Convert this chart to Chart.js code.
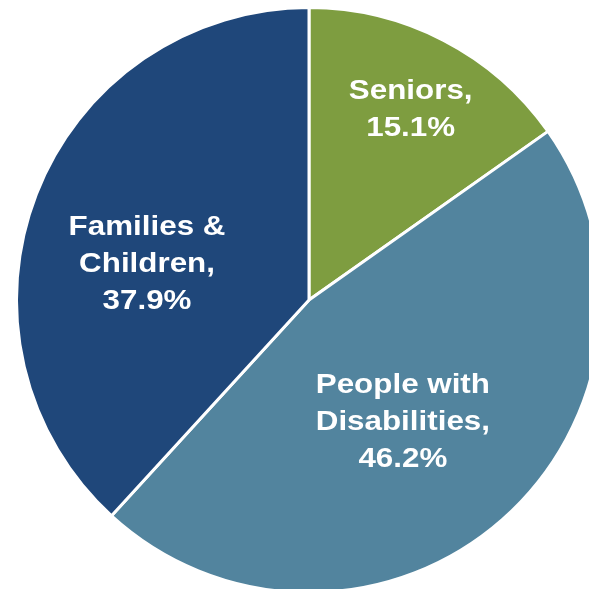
<!DOCTYPE html>
<html>
<head>
<meta charset="utf-8">
<script src="https://cdn.jsdelivr.net/npm/chart.js@4.4.0/dist/chart.umd.min.js"></script>
<style>
html,body{margin:0;padding:0;width:589px;height:589px;overflow:hidden;background:#ffffff;}
#wrap{position:absolute;left:9px;top:0px;width:600px;height:600px;}
</style>
</head>
<body>
<div id="wrap"><canvas id="c" width="600" height="600"></canvas></div>
<script>
const categories = ["Seniors", "People with Disabilities", "Families & Children"];
const labelLines = [["Seniors,", "15.1%"], ["People with", "Disabilities,", "46.2%"], ["Families &", "Children,", "37.9%"]];
const values = [15.1, 46.2, 37.9];
const colors = ["#7E9D40", "#52849E", "#1F477A"];

// label placement styles (radius fraction, angle offset in degrees from slice middle)
const labelRadius = [0.742, 0.529, 0.570];
const labelAngleOffset = [0.7, 3.8, -8.8];

const labelPlugin = {
  id: 'sliceLabels',
  afterDatasetsDraw(chart) {
    const ctx = chart.ctx;
    const meta = chart.getDatasetMeta(0);
    const sx = 1.1;
    const lh = 37;
    meta.data.forEach((arc, i) => {
      const p = arc.getProps(['x','y','startAngle','endAngle','outerRadius'], true);
      const mid = (p.startAngle + p.endAngle) / 2 + labelAngleOffset[i] * Math.PI / 180;
      const r = 291 * labelRadius[i];
      const cx = p.x + Math.cos(mid) * r;
      const cy = p.y + Math.sin(mid) * r;
      const lines = labelLines[i];
      const y0 = cy - (lines.length - 1) * lh / 2;
      ctx.save();
      ctx.translate(cx, 0);
      ctx.scale(sx, 1);
      ctx.fillStyle = '#ffffff';
      ctx.font = 'bold 28.5px "Liberation Sans", Arial, sans-serif';
      ctx.textAlign = 'center';
      ctx.textBaseline = 'middle';
      lines.forEach((t, k) => ctx.fillText(t, 0, y0 + k * lh));
      ctx.restore();
    });
  }
};

new Chart(document.getElementById('c'), {
  type: 'pie',
  data: {
    labels: categories,
    datasets: [{
      data: values,
      backgroundColor: colors,
      borderColor: '#ffffff',
      borderWidth: 3,
      hoverOffset: 0
    }]
  },
  options: {
    responsive: false,
    animation: false,
    radius: 292.5,
    layout: { padding: 0 },
    plugins: { legend: { display: false }, tooltip: { enabled: false } }
  },
  plugins: [labelPlugin]
});
</script>
</body>
</html>
